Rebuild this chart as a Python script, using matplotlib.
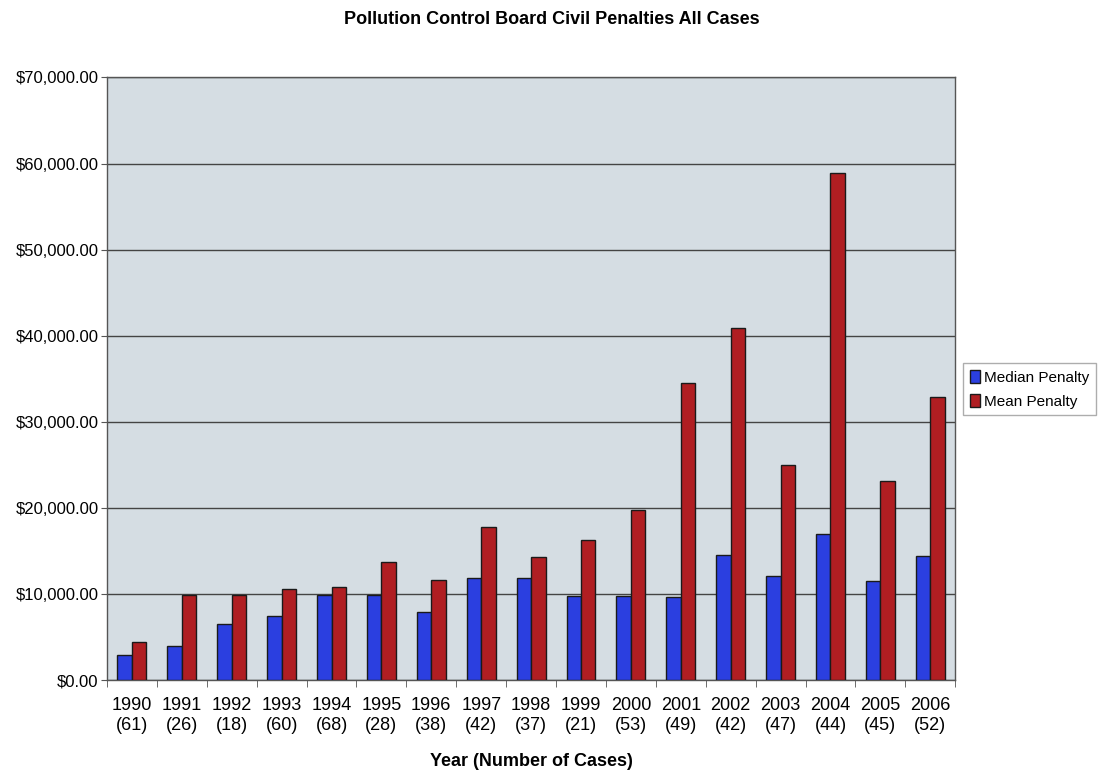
import matplotlib.pyplot as plt
import numpy as np
from matplotlib.ticker import FuncFormatter

plt.rcParams['font.family'] = ['Liberation Sans', 'DejaVu Sans']

years = ['1990', '1991', '1992', '1993', '1994', '1995', '1996', '1997', '1998',
         '1999', '2000', '2001', '2002', '2003', '2004', '2005', '2006']
cases = [61, 26, 18, 60, 68, 28, 38, 42, 37, 21, 53, 49, 42, 47, 44, 45, 52]
median_penalty = [3000, 4000, 6500, 7500, 9900, 9900, 7900, 11900, 11900,
                  9800, 9800, 9700, 14600, 12100, 17000, 11500, 14400]
mean_penalty = [4400, 9900, 9900, 10650, 10800, 13700, 11700, 17800, 14300,
                16300, 19800, 34500, 40900, 25000, 58900, 23100, 32900]

fig = plt.figure(figsize=(11.03, 7.74), dpi=100)
ax = fig.add_axes([0.097, 0.121, 0.769, 0.779])
ax.set_facecolor('#d5dde3')

x = np.arange(len(years))
w = 0.29
ax.bar(x - w / 2, median_penalty, w, color='#2b3fe0', edgecolor='#1a1a1a', linewidth=1, label='Median Penalty', zorder=3)
ax.bar(x + w / 2, mean_penalty, w, color='#b01e22', edgecolor='#1a1a1a', linewidth=1, label='Mean Penalty', zorder=3)

ax.set_xlim(-0.5, len(years) - 0.5)
ax.set_ylim(0, 70000)
ax.set_yticks(np.arange(0, 70001, 10000))
ax.yaxis.set_major_formatter(FuncFormatter(lambda v, p: '${:,.2f}'.format(v)))
ax.grid(axis='y', color='#444444', linewidth=1, zorder=1)

ax.set_xticks(x)
ax.set_xticklabels(['{}\n({})'.format(y, c) for y, c in zip(years, cases)], fontsize=13)
ax.set_xticks(np.arange(-0.5, len(years), 1), minor=True)
ax.tick_params(axis='x', which='major', length=0, pad=12)
ax.tick_params(axis='x', which='minor', length=5, color='#555555')
ax.tick_params(axis='y', labelsize=12, length=4, pad=2, color='#555555')

for s in ax.spines.values():
    s.set_color('#555555')
    s.set_linewidth(1)

ax.set_xlabel('Year (Number of Cases)', fontsize=13, fontweight='bold', labelpad=14)
fig.text(0.5, 0.975, 'Pollution Control Board Civil Penalties All Cases',
         ha='center', va='center', fontsize=13, fontweight='bold')

leg = fig.legend(loc='center left', bbox_to_anchor=(0.873, 0.497), fontsize=11,
                 frameon=True, fancybox=False, edgecolor='#999999',
                 handlelength=0.7, handleheight=0.9, handletextpad=0.2,
                 borderpad=0.45, borderaxespad=0.0, labelspacing=0.6)

fig.savefig('out.png', dpi=100)
